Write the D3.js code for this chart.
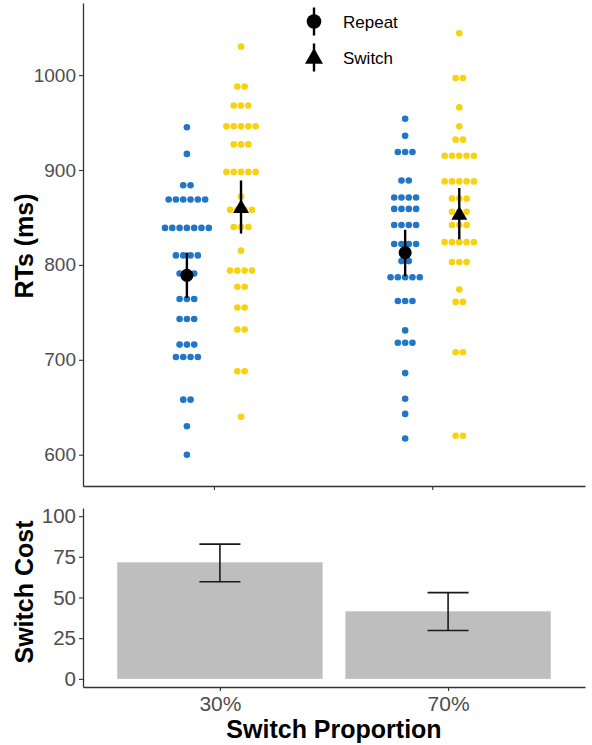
<!DOCTYPE html>
<html>
<head>
<meta charset="utf-8">
<script src="https://cdn.jsdelivr.net/npm/d3@7"></script>
<style>
  html, body { margin: 0; padding: 0; background: #fff; }
  svg { display: block; font-family: "Liberation Sans", Arial, sans-serif; }
</style>
</head>
<body>
<svg id="chart" width="592" height="745"></svg>
<script>
// ---------------- DATA ----------------
const categories = ["30%", "70%"];
const conditions = ["Repeat", "Switch"];

// individual participant RTs (ms)
const rtRepeat30 = [945, 917, 884, 884, 869, 869, 869, 869, 869, 869,
  839, 839, 839, 839, 839, 839, 839, 810, 810, 810, 810, 791, 791, 791,
  764, 764, 764, 743, 743, 743, 716, 716, 716, 703, 703, 703, 703, 658, 658, 630, 600];
const rtSwitch30 = [1030, 988, 988, 968, 968, 968, 946, 946, 946, 946, 946,
  927, 927, 927, 898, 898, 898, 898, 898, 872, 858, 858, 858, 858,
  840, 840, 840, 815, 794, 794, 794, 794, 777, 777, 755, 755, 732, 732, 688, 688, 640];
const rtRepeat70 = [954, 936, 919, 919, 919, 889, 889, 871, 871, 871, 871,
  859, 859, 859, 859, 842, 842, 842, 842, 822, 822, 822, 822, 804, 804,
  787, 787, 787, 787, 787, 762, 762, 762, 731, 718, 718, 718, 686, 659, 643, 617];
const rtSwitch70 = [1044, 997, 997, 966, 946, 932, 932, 915, 915, 915, 915, 915,
  888, 888, 888, 888, 888, 870, 870, 870, 856, 856, 856, 842, 842, 842,
  824, 824, 824, 824, 824, 803, 803, 803, 774, 761, 761, 708, 708, 620, 620];

// condition means with error bars (ms)
const rtMeanRepeat = [789, 813];
const rtLowRepeat  = [765, 788];
const rtHighRepeat = [813, 837];
const rtMeanSwitch = [861, 854];
const rtLowSwitch  = [833, 827];
const rtHighSwitch = [889, 881];

// switch cost
const costMean = [71.6, 41.5];
const costLow  = [59.7, 29.7];
const costHigh = [82.8, 53.0];

const rtTicks = [600, 700, 800, 900, 1000];
const costTicks = [0, 25, 50, 75, 100];

// ---------------- LAYOUT ----------------
const svg = d3.select("#chart");
const C = { blue: "#2176c7", yellow: "#f8d10f", bar: "#bebebe", axis: "#333333", tick: "#4d4d4d" };
const left = 83, right = 585;

// top panel scales
const xTop = d3.scaleLinear().domain([0.4, 2.7]).range([left, right]);
const yTop = d3.scaleLinear().domain([567, 1076]).range([486, 3]);
const dodge = 0.124;
const dotR = 3.3, dotStep = 7.3;

// bottom panel scales
const xBot = d3.scaleLinear().domain([0.4, 2.6]).range([left, right]);
const yBot = d3.scaleLinear().domain([-5, 105]).range([687, 508]);

// ---------------- TOP PANEL ----------------
const gTop = svg.append("g");

const groups = [
  { vals: rtRepeat30, cat: 1, off: -dodge, color: C.blue },
  { vals: rtSwitch30, cat: 1, off: dodge, color: C.yellow },
  { vals: rtRepeat70, cat: 2, off: -dodge, color: C.blue },
  { vals: rtSwitch70, cat: 2, off: dodge, color: C.yellow }
];

groups.forEach(g => {
  const bins = d3.rollups(g.vals, v => v.length, d => d);
  const cx = xTop(g.cat + g.off);
  const pts = [];
  bins.forEach(([val, n]) => {
    for (let i = 0; i < n; i++) pts.push({ x: cx + (i - (n - 1) / 2) * dotStep, y: yTop(val) });
  });
  gTop.append("g").selectAll("circle").data(pts).join("circle")
    .attr("cx", d => d.x).attr("cy", d => d.y).attr("r", dotR)
    .attr("fill", g.color);
});

// axes
const yAxisTop = d3.axisLeft(yTop).tickValues(rtTicks).tickFormat(d3.format("d"))
  .tickSize(4).tickSizeOuter(0).tickPadding(3);
const gyT = gTop.append("g").attr("transform", `translate(${left},0)`).call(yAxisTop);
const xAxisTop = d3.axisBottom(xTop).tickValues([1, 2]).tickFormat("").tickSize(4).tickSizeOuter(0);
const gxT = gTop.append("g").attr("transform", `translate(0,${yTop.range()[0]})`).call(xAxisTop);

// mean + error bars
const triSym = d3.symbol().type(d3.symbolTriangle).size(110);
categories.forEach((c, i) => {
  const xr = xTop(i + 1 - dodge), xs = xTop(i + 1 + dodge);
  gTop.append("line").attr("x1", xr).attr("x2", xr)
    .attr("y1", yTop(rtLowRepeat[i])).attr("y2", yTop(rtHighRepeat[i]))
    .attr("stroke", "#000").attr("stroke-width", 2.4);
  gTop.append("circle").attr("cx", xr).attr("cy", yTop(rtMeanRepeat[i])).attr("r", 6.5).attr("fill", "#000");
  gTop.append("line").attr("x1", xs).attr("x2", xs)
    .attr("y1", yTop(rtLowSwitch[i])).attr("y2", yTop(rtHighSwitch[i]))
    .attr("stroke", "#000").attr("stroke-width", 2.4);
  gTop.append("path").attr("d", triSym())
    .attr("transform", `translate(${xs},${yTop(rtMeanSwitch[i]) + 1.5})`).attr("fill", "#000");
});

// legend
const leg = gTop.append("g").attr("transform", "translate(314,0)");
conditions.forEach((name, i) => {
  const cy = 21.5 + i * 36;
  leg.append("line").attr("x1", 0).attr("x2", 0).attr("y1", cy - 14).attr("y2", cy + 14)
    .attr("stroke", "#000").attr("stroke-width", 2.4);
  if (i === 0) leg.append("circle").attr("cx", 0).attr("cy", cy).attr("r", 7.3).attr("fill", "#000");
  else leg.append("path").attr("d", d3.symbol().type(d3.symbolTriangle).size(140)())
    .attr("transform", `translate(0,${cy + 1})`).attr("fill", "#000");
  leg.append("text").attr("x", 29).attr("y", cy + 6).text(name)
    .attr("font-size", 17).attr("fill", "#000");
});

// y title
svg.append("text").attr("transform", `translate(33,246) rotate(-90)`)
  .attr("text-anchor", "middle").attr("font-size", 25).attr("font-weight", "bold")
  .attr("fill", "#000").text("RTs (ms)");

// ---------------- BOTTOM PANEL ----------------
const gBot = svg.append("g");
const barW = 0.9;
gBot.selectAll("rect.bar").data(costMean).join("rect").attr("class", "bar")
  .attr("x", (d, i) => xBot(i + 1 - barW / 2))
  .attr("width", (d, i) => xBot(i + 1 + barW / 2) - xBot(i + 1 - barW / 2))
  .attr("y", d => yBot(d)).attr("height", d => yBot(0) - yBot(d))
  .attr("fill", C.bar);

const capHalf = 0.09;
costMean.forEach((d, i) => {
  const cx = xBot(i + 1);
  const eg = gBot.append("g").attr("stroke", "#1a1a1a").attr("stroke-width", 1.6);
  eg.append("line").attr("x1", cx).attr("x2", cx).attr("y1", yBot(costLow[i])).attr("y2", yBot(costHigh[i]));
  [costLow[i], costHigh[i]].forEach(v => {
    eg.append("line").attr("x1", xBot(i + 1 - capHalf)).attr("x2", xBot(i + 1 + capHalf))
      .attr("y1", yBot(v)).attr("y2", yBot(v));
  });
});

const yAxisBot = d3.axisLeft(yBot).tickValues(costTicks).tickSize(4).tickSizeOuter(0).tickPadding(3);
const gyB = gBot.append("g").attr("transform", `translate(${left},0)`).call(yAxisBot);
const xAxisBot = d3.axisBottom(xBot).tickValues([1, 2]).tickFormat((d) => categories[d - 1])
  .tickSize(4).tickSizeOuter(0).tickPadding(5);
const gxB = gBot.append("g").attr("transform", `translate(0,${yBot.range()[0]})`).call(xAxisBot);

svg.append("text").attr("transform", `translate(33,592) rotate(-90)`)
  .attr("text-anchor", "middle").attr("font-size", 25).attr("font-weight", "bold")
  .attr("fill", "#000").text("Switch Cost");

svg.append("text").attr("x", 334).attr("y", 738)
  .attr("text-anchor", "middle").attr("font-size", 25).attr("font-weight", "bold")
  .attr("fill", "#000").text("Switch Proportion");

// axis styling
[gyT, gxT, gyB, gxB].forEach(g => {
  g.select(".domain").attr("stroke", C.axis).attr("stroke-width", 1.3);
  g.selectAll(".tick line").attr("stroke", C.axis).attr("stroke-width", 1.1);
  g.selectAll(".tick text").attr("fill", C.tick)
    .attr("font-family", "'Liberation Sans', Arial, sans-serif");
});
gyT.selectAll(".tick text").attr("font-size", 19);
gyB.selectAll(".tick text").attr("font-size", 20.5);
gxB.selectAll(".tick text").attr("font-size", 21);
</script>
</body>
</html>
